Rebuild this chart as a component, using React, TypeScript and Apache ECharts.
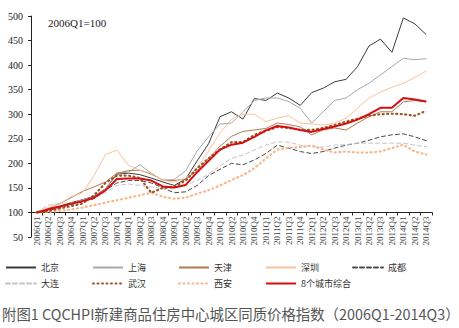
import React, { useEffect, useRef } from "react";
import * as echarts from "echarts";

const categories = [
  "2006Q1","2006Q2","2006Q3","2006Q4","2007Q1","2007Q2","2007Q3","2007Q4",
  "2008Q1","2008Q2","2008Q3","2008Q4","2009Q1","2009Q2","2009Q3","2009Q4",
  "2010Q1","2010Q2","2010Q3","2010Q4","2011Q1","2011Q2","2011Q3","2011Q4",
  "2012Q1","2012Q2","2012Q3","2012Q4","2013Q1","2013Q2","2013Q3","2013Q4",
  "2014Q1","2014Q2","2014Q3",
];

const beijing = [100,108,112,120,126,133,148,178,180,177,170,162,155,168,205,240,295,305,290,332,328,343,333,318,344,353,366,371,397,439,453,426,496,484,462];
const shanghai = [100,106,112,118,125,133,148,180,182,197,180,165,167,185,225,254,280,282,305,328,333,333,326,312,282,305,328,333,350,363,380,397,414,411,413];
const tianjin = [100,108,118,130,143,152,162,180,185,186,178,166,165,168,185,210,235,255,265,268,271,282,279,274,258,268,272,268,282,295,305,305,325,328,325];
const shenzhen = [100,110,118,132,140,175,218,227,196,186,180,165,162,170,190,225,262,290,300,300,285,292,297,282,280,278,282,292,312,333,345,355,363,375,388];
const chengdu = [100,104,110,116,122,128,145,160,165,165,160,150,140,142,155,175,188,200,197,207,220,237,231,224,220,224,231,237,241,247,254,258,260,254,246];
const dalian = [100,115,118,120,125,130,140,155,158,155,152,148,150,155,165,178,195,210,217,227,237,244,243,237,234,233,237,238,241,241,241,241,241,237,234];
const wuhan = [100,103,108,113,118,135,160,175,175,170,140,150,152,165,190,210,228,243,243,258,266,274,272,268,268,272,278,285,291,297,300,301,300,297,307];
const xian = [100,101,103,106,110,115,120,125,130,135,140,132,128,130,138,145,155,166,176,190,210,228,232,233,236,228,222,224,222,222,224,231,238,224,218];
const composite = [100,106,112,118,123,130,145,168,169,169,165,153,151,156,182,205,228,238,242,254,267,276,273,268,264,270,275,281,289,300,313,313,333,330,326];

const names = ["北京","上海","天津","深圳","成都","大连","武汉","西安","8个城市综合"];
const yTicks = { min: 50, max: 500, interval: 50 };

export default function App() {
  const ref = useRef<HTMLDivElement>(null);
  useEffect(() => {
    if (!ref.current) return;
    const chart = echarts.init(ref.current, null, { renderer: "svg" });
    const mk = (name: string, data: number[], color: string, width: number, type: any, z = 2) => ({
      name,
      type: "line",
      data,
      symbol: "none",
      z,
      lineStyle: { color, width, type, cap: type === "solid" ? "butt" : "round" },
      itemStyle: { color },
    });
    const seriesData: any[] = [
      mk(names[0], beijing, "#3a3a3a", 1, "solid"),
      mk(names[1], shanghai, "#a8a8a8", 1, "solid"),
      mk(names[2], tianjin, "#b47a50", 1, "solid"),
      mk(names[3], shenzhen, "#fbc39b", 1, "solid"),
      mk(names[4], chengdu, "#4a4a4a", 1, [4, 3]),
      mk(names[5], dalian, "#c4c4c4", 1, [4, 3]),
      mk(names[6], wuhan, "#9a5428", 2.2, [1, 3.5], 3),
      mk(names[7], xian, "#fbb58a", 2.2, [1, 3.5]),
      mk(names[8], composite, "#d40f0f", 2, "solid", 4),
    ];
    const cols = [5, 92, 178, 265, 352];
    const legends = names.map((n, i) => ({
      data: [n],
      left: cols[i % 5],
      top: i < 5 ? 263 : 279,
      itemWidth: 30,
      itemHeight: 10,
      itemGap: 0,
      padding: 0,
      itemStyle: { opacity: 0, borderWidth: 0 },
      textStyle: { fontSize: 9, color: "#333", fontFamily: "Noto Sans CJK SC", padding: [0, 0, 0, 0] },
      selectedMode: false,
    }));
    chart.setOption({
      animation: false,
      backgroundColor: "#fff",
      grid: { left: 31, right: 27, top: 16, height: 221, containLabel: false },
      legend: legends,
      xAxis: {
        type: "category",
        data: categories,
        boundaryGap: true,
        position: "bottom",
        offset: -221 / 9,
        axisLine: { lineStyle: { color: "#222", width: 1 } },
        axisTick: { show: true, inside: false, length: 3, lineStyle: { color: "#222" } },
        axisLabel: {
          interval: 0,
          rotate: 90,
          fontSize: 9,
          margin: 4,
          color: "#444",
          fontFamily: "Liberation Serif",
        },
      },
      yAxis: {
        type: "value",
        min: yTicks.min,
        max: yTicks.max,
        interval: yTicks.interval,
        axisLine: { show: true, lineStyle: { color: "#222", width: 1 } },
        axisTick: { show: true, length: 3, lineStyle: { color: "#222" } },
        splitLine: { show: false },
        axisLabel: { fontSize: 10, color: "#222", margin: 8, fontFamily: "Liberation Serif" },
      },
      graphic: [
        {
          type: "text",
          left: 48,
          top: 17,
          style: { text: "2006Q1=100", fontSize: 11, fill: "#222", fontFamily: "Liberation Serif" },
        },
        {
          type: "text",
          left: 2,
          top: 306,
          style: {
            text: "附图1 CQCHPI新建商品住房中心城区同质价格指数（2006Q1-2014Q3）",
            fontSize: 14.4,
            fill: "#555",
            fontFamily: "Noto Sans CJK SC",
          },
        },
      ],
      series: seriesData,
    });
    return () => chart.dispose();
  }, []);
  return (
    <div
      ref={ref}
      style={{ position: "fixed", left: 0, top: 0, width: 459, height: 328, background: "#fff" }}
    />
  );
}
